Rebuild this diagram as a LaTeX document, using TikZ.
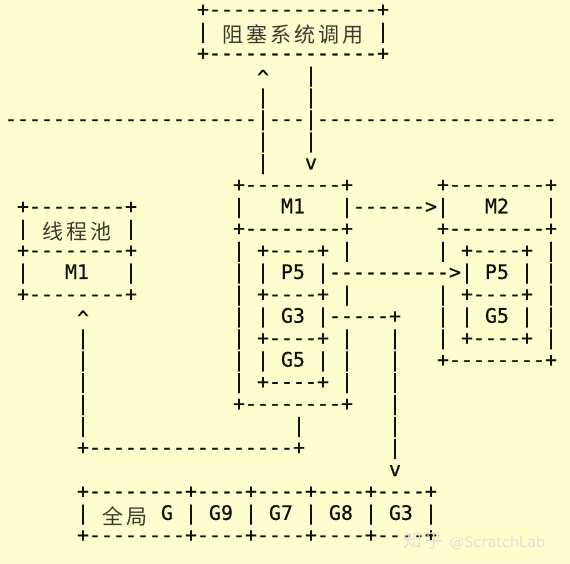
\documentclass[tikz,border=0pt]{standalone}
\usepackage{fontspec}
\setmonofont{DejaVu Sans Mono}[FakeBold=0.6]
\newfontfamily\cjkfont{Noto Sans CJK SC}[LetterSpace=14]
\newfontfamily\markfont{DejaVu Sans}
\definecolor{paper}{RGB}{254,253,205}
\definecolor{ink}{RGB}{15,15,5}
\definecolor{cjkink}{RGB}{60,60,45}
\definecolor{markgray}{RGB}{226,226,212}
\newlength\cellw
\setlength\cellw{12pt}
% CJK text spread over #1 monospace cells
\newcommand\cjk[2]{\makebox[#1\cellw]{\raisebox{-4.5pt}{\color{cjkink}\cjkfont\fontsize{21}{21}\selectfont #2}}}
\newcommand\uptip{\raisebox{-2.5pt}{\textasciicircum}}

\begin{document}
\begin{tikzpicture}[
	x=12pt, y=-21.9pt,
	ascii/.style={ anchor=mid west, xshift=-6pt, inner sep=0pt, outer sep=0pt, text=ink,
		font=\ttfamily\fontsize{19.93}{21.9}\selectfont }
]
\useasboundingbox[fill=paper] (-11pt,14pt) rectangle (559pt,-550pt);

% blocking system call
\node[ascii] (sys top) at (16,0) {+--------------+};
\node[ascii] (sys) at (16,1) {|\ \cjk{12}{阻塞系统调用}\ |};
\node[ascii] (sys bot) at (16,2) {+--------------+};
\node[ascii] (up tip) at (21,3) {\uptip};
\node[ascii] (down top) at (25,3) {|};
\foreach \r in {4,6,7}
	\node[ascii] (up\r) at (21,\r) {|};
\foreach \r in {4,6}
	\node[ascii] (down\r) at (25,\r) {|};
\node[ascii] (down tip) at (25,7) {v};
\node[ascii] (kernel) at (0,5) {---------------------|---|--------------------};

% thread pool
\node[ascii] (pool top) at (1,9) {+--------+};
\node[ascii] (pool) at (1,10) {|\ \cjk{6}{线程池}\ |};
\node[ascii] (pool sep) at (1,11) {+--------+};
\node[ascii] (pool m1) at (1,12) {|\ \ \ M1\ \ \ |};
\node[ascii] (pool bot) at (1,13) {+--------+};

% M1
\node[ascii] (m1 top) at (19,8) {+--------+};
\node[ascii] (m1) at (19,9) {|\ \ \ M1\ \ \ |};
\node[ascii] (m1 sep) at (19,10) {+--------+};
\node[ascii] (m1 r11) at (19,11) {|\ +----+\ |};
\node[ascii] (m1 p5) at (19,12) {|\ |\ P5\ |};
\node[ascii] (m1 r13) at (19,13) {|\ +----+\ |};
\node[ascii] (m1 g3) at (19,14) {|\ |\ G3\ |};
\node[ascii] (m1 r15) at (19,15) {|\ +----+\ |};
\node[ascii] (m1 g5) at (19,16) {|\ |\ G5\ |\ |};
\node[ascii] (m1 r17) at (19,17) {|\ +----+\ |};
\node[ascii] (m1 bot) at (19,18) {+--------+};

% M2
\node[ascii] (m2 top) at (36,8) {+--------+};
\node[ascii] (m2) at (36,9) {|\ \ \ M2\ \ \ |};
\node[ascii] (m2 sep) at (36,10) {+--------+};
\node[ascii] (m2 r11) at (36,11) {|\ +----+\ |};
\node[ascii] (m2 p5) at (38,12) {|\ P5\ |\ |};
\node[ascii] (m2 r13) at (36,13) {|\ +----+\ |};
\node[ascii] (m2 g5) at (36,14) {|\ |\ G5\ |\ |};
\node[ascii] (m2 r15) at (36,15) {|\ +----+\ |};
\node[ascii] (m2 bot) at (36,16) {+--------+};

% handoffs
\node[ascii] (m1 to m2) at (29,9) {------>};
\node[ascii] (p5 to m2) at (27,12) {---------->};
\node[ascii] (g3 out) at (27,14) {-----+};
\foreach \r in {15,...,20}
	\node[ascii] (g3 down\r) at (32,\r) {|};
\node[ascii] (g3 tip) at (32,21) {v};

% M1 back to the pool
\node[ascii] (back tip) at (6,14) {\uptip};
\foreach \r in {15,...,19}
	\node[ascii] (back\r) at (6,\r) {|};
\node[ascii] (m1 down) at (24,19) {|};
\node[ascii] (back bot) at (6,20) {+-----------------+};

% global queue
\node[ascii] (queue top) at (6,22) {+--------+----+----+----+----+};
\node[ascii] (queue) at (6,23) {|\ \cjk{4}{全局}\ G\ |\ G9\ |\ G7\ |\ G8\ |\ G3\ |};
\node[ascii] (queue bot) at (6,24) {+--------+----+----+----+----+};

\node[anchor=base west, inner sep=0pt, text=markgray] (mark) at (392pt,-533pt)
	{{\cjkfont\fontsize{19}{19}\selectfont 知乎}\hspace{6pt}{\markfont\fontsize{14.5}{14.5}\selectfont @ScratchLab}};

\end{tikzpicture}
\end{document}
